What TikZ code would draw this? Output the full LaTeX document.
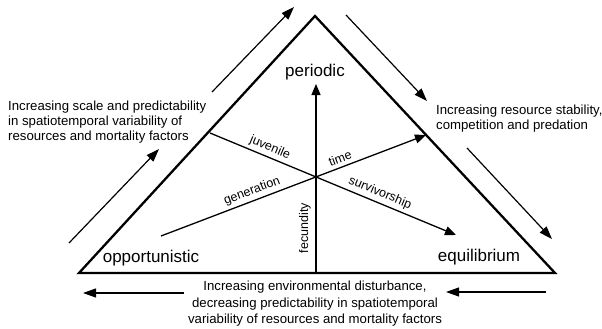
\documentclass[tikz,border=0pt]{standalone}
\usepackage{fontspec}
\setmainfont{Liberation Sans}
\usetikzlibrary{arrows.meta}
\begin{document}
\begin{tikzpicture}[x=1pt,y=-1pt,
  tri/.style={line width=2.3pt,line join=miter},
  axis/.style={line width=1.3pt,-{Triangle[length=11pt,width=9pt]}},
  plainaxis/.style={line width=1.3pt},
  outer/.style={line width=1.2pt,-{Triangle[length=13pt,width=9pt]}},
  big/.style={font=\fontsize{17}{19}\selectfont,inner sep=0pt},
  lab/.style={font=\fontsize{12.5}{14}\selectfont,inner sep=0pt},
  side/.style={font=\fontsize{13.2}{15}\selectfont,inner sep=0pt,align=left},
]
\useasboundingbox (0,0) rectangle (602,329);
% triangle vertices
\coordinate (L) at (79,273);
\coordinate (T) at (315,16);
\coordinate (R) at (555,273);
\draw[tri] (L) -- (T) -- (R) -- cycle;
% inner axes
\coordinate (C) at (316,177);
\coordinate (V0) at (316,273);
\coordinate (V1) at (316,84);
\coordinate (J) at (210,133);
\coordinate (S) at (456,235);
\coordinate (G) at (161,236);
\coordinate (Ti) at (426,135);
\draw[axis] (V0) -- (V1);
\draw[axis] (J) -- (S);
\draw[axis] (G) -- (Ti);
% outer arrows
\coordinate (a1s) at (212,92);  \coordinate (a1e) at (294,7);
\coordinate (a2s) at (69,243);  \coordinate (a2e) at (159,149);
\coordinate (b1s) at (346,15);  \coordinate (b1e) at (427,101);
\coordinate (b2s) at (467,148); \coordinate (b2e) at (552,239);
\coordinate (c1s) at (184,293); \coordinate (c1e) at (83,293);
\coordinate (c2s) at (546,292); \coordinate (c2e) at (446,292);
\draw[outer] (a1s) -- (a1e);
\draw[outer] (a2s) -- (a2e);
\draw[outer] (b1s) -- (b1e);
\draw[outer] (b2s) -- (b2e);
\draw[outer] (c1s) -- (c1e);
\draw[outer] (c2s) -- (c2e);
% vertex labels
\node[big] (per) at (315,72) {periodic};
\node[big] (opp) at (151,258) {opportunistic};
\node[big] (equ) at (479,257) {equilibrium};
% axis labels
\node[lab,rotate=-22.5] (juv) at (270,148) {juvenile};
\node[lab,rotate=20.6] (tim) at (340,158) {time};
\node[lab,rotate=20.8] (gen) at (252,191) {generation};
\node[lab,rotate=-22.6] (sur) at (380,193) {survivorship};
\node[lab,rotate=90] (fec) at (305,228) {fecundity};
% side texts
\node[side,anchor=west] (lt) at (8,122) {Increasing scale and predictability\\in spatiotemporal variability of\\resources and mortality factors};
\node[side,anchor=west] (rt) at (436,118.5) {Increasing resource stability,\\competition and predation};
\node[side,align=center,font=\fontsize{13.2}{16.5}\selectfont] (bt) at (315,304) {Increasing environmental disturbance,\\decreasing predictability in spatiotemporal\\variability of resources and mortality factors};
\end{tikzpicture}
\end{document}
